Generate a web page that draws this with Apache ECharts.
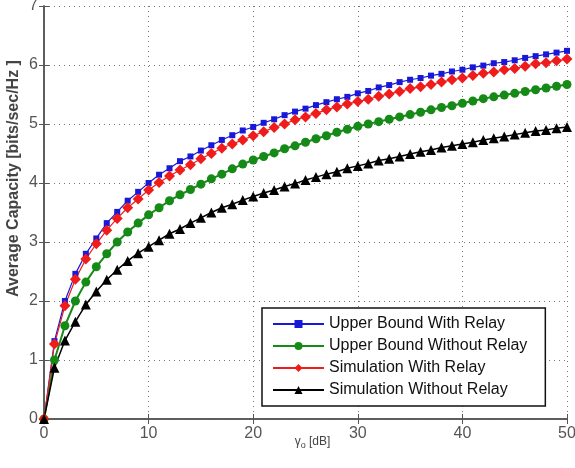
<!DOCTYPE html>
<html>
<head>
<meta charset="utf-8">
<script src="https://cdn.jsdelivr.net/npm/echarts@6/dist/echarts.min.js"></script>
<style>
  html, body { margin: 0; padding: 0; background: #fff; }
  #chart { width: 575px; height: 468px; }
</style>
</head>
<body>
<div id="chart"></div>
<script>
const gammaDb = [0, 1, 2, 3, 4, 5, 6, 7, 8, 9, 10, 11, 12, 13, 14, 15, 16, 17, 18, 19, 20,
  21, 22, 23, 24, 25, 26, 27, 28, 29, 30, 31, 32, 33, 34, 35, 36, 37, 38, 39, 40,
  41, 42, 43, 44, 45, 46, 47, 48, 49, 50]

const upperWithRelay = [0, 1.32, 2.0, 2.46, 2.80, 3.06, 3.32, 3.51, 3.70, 3.85, 4.0,
  4.14, 4.25, 4.37, 4.45, 4.55, 4.64, 4.73, 4.81, 4.89, 4.95,
  5.02, 5.08, 5.15, 5.21, 5.26, 5.32, 5.37, 5.42, 5.46, 5.52,
  5.56, 5.62, 5.66, 5.71, 5.75, 5.78, 5.82, 5.85, 5.89, 5.92,
  5.96, 5.99, 6.03, 6.05, 6.08, 6.12, 6.15, 6.18, 6.21, 6.24]

const upperWithoutRelay = [0, 1.0, 1.58, 2.0, 2.32, 2.58, 2.80, 3.0, 3.17, 3.32, 3.46,
  3.58, 3.70, 3.80, 3.89, 3.98, 4.07, 4.15, 4.24, 4.32, 4.39,
  4.45, 4.51, 4.58, 4.63, 4.69, 4.75, 4.80, 4.86, 4.91, 4.96,
  5.0, 5.04, 5.08, 5.12, 5.16, 5.20, 5.24, 5.28, 5.31, 5.35,
  5.39, 5.43, 5.46, 5.49, 5.52, 5.55, 5.58, 5.61, 5.64, 5.67]

const simWithRelay = [0, 1.27, 1.92, 2.37, 2.71, 2.97, 3.20, 3.40, 3.58, 3.73, 3.88,
  4.01, 4.12, 4.22, 4.31, 4.41, 4.50, 4.59, 4.66, 4.73, 4.80,
  4.87, 4.94, 5.0, 5.07, 5.12, 5.18, 5.24, 5.29, 5.34, 5.38,
  5.42, 5.47, 5.51, 5.55, 5.60, 5.63, 5.67, 5.71, 5.75, 5.78,
  5.82, 5.86, 5.88, 5.92, 5.94, 5.98, 6.02, 6.04, 6.07, 6.10]

const simWithoutRelay = [0, 0.87, 1.33, 1.65, 1.94, 2.16, 2.36, 2.53, 2.68, 2.81, 2.92,
  3.03, 3.14, 3.22, 3.32, 3.41, 3.50, 3.58, 3.64, 3.71, 3.77,
  3.83, 3.88, 3.94, 3.99, 4.05, 4.10, 4.15, 4.19, 4.25, 4.29,
  4.33, 4.38, 4.41, 4.45, 4.49, 4.53, 4.56, 4.60, 4.63, 4.66,
  4.69, 4.73, 4.76, 4.79, 4.82, 4.85, 4.88, 4.90, 4.93, 4.95]

const seriesNames = ['Upper Bound With Relay', 'Upper Bound Without Relay',
  'Simulation With Relay', 'Simulation Without Relay']

function pairs (values) {
  return gammaDb.map((x, i) => [x, values[i]])
}

const font = 'Liberation Sans, Arial, sans-serif'
const axisGray = '#555'
const gridLine = { show: true, lineStyle: { color: '#777', type: [1, 4], width: 1 } }

let option = {
  animation: false,
  backgroundColor: '#fff',
  grid: { left: 44, right: 8, top: 6, bottom: 49, outerBoundsMode: 'none' },
  legend: {
    orient: 'vertical',
    left: 262,
    top: 308,
    itemWidth: 51,
    itemHeight: 10,
    itemGap: 6,
    padding: [8, 18, 8, 10],
    backgroundColor: '#fff',
    borderColor: '#111',
    borderWidth: 1.5,
    textStyle: { color: '#111', fontSize: 16, fontFamily: font },
    data: seriesNames
  },
  xAxis: [
    {
      type: 'value',
      min: 0,
      max: 50,
      interval: 10,
      name: '{g|γ}{s|o} [dB]',
      nameLocation: 'middle',
      nameGap: 15,
      nameMoveOverlap: false,
      nameTextStyle: {
        color: '#444',
        fontSize: 12,
        fontFamily: font,
        padding: [0, 0, 0, 14],
        rich: {
          g: { fontSize: 12, color: '#444', fontFamily: font },
          s: { fontSize: 9, color: '#444', fontFamily: font, verticalAlign: 'bottom', padding: [7, 0, 0, 0] }
        }
      },
      axisLine: { show: true, onZero: false, lineStyle: { color: axisGray, width: 1.5 } },
      axisTick: { show: true, inside: true, length: 5, lineStyle: { color: axisGray } },
      axisLabel: { color: '#555', fontSize: 16, margin: 7, fontFamily: font },
      splitLine: gridLine
    },
    {
      type: 'value',
      position: 'top',
      min: 0,
      max: 50,
      interval: 10,
      axisLine: { show: true, lineStyle: { color: axisGray, width: 1.5 } },
      axisTick: { show: true, inside: true, length: 5, lineStyle: { color: axisGray } },
      axisLabel: { show: false },
      splitLine: { show: false }
    }
  ],
  yAxis: [
    {
      type: 'value',
      min: 0,
      max: 7,
      interval: 1,
      name: 'Average Capacity [bits/sec/Hz ]',
      nameLocation: 'middle',
      nameGap: 22,
      nameMoveOverlap: false,
      nameTextStyle: {
        color: '#444',
        fontSize: 16,
        fontWeight: 'bold',
        fontFamily: font,
        padding: [0, 0, 0, 68]
      },
      axisLine: { show: true, onZero: false, lineStyle: { color: axisGray, width: 1.5 } },
      axisTick: { show: true, inside: true, length: 5, lineStyle: { color: axisGray } },
      axisLabel: { color: '#555', fontSize: 16, margin: 6, fontFamily: font },
      splitLine: gridLine
    },
    {
      type: 'value',
      position: 'right',
      min: 0,
      max: 7,
      interval: 1,
      axisLine: { show: true, lineStyle: { color: axisGray, width: 1.5 } },
      axisTick: { show: true, inside: true, length: 5, lineStyle: { color: axisGray } },
      axisLabel: { show: false },
      splitLine: { show: false }
    }
  ],
  series: [
    {
      name: seriesNames[0],
      type: 'line',
      data: pairs(upperWithRelay),
      symbol: 'rect',
      symbolSize: 6,
      color: '#1818d8',
      lineStyle: { width: 1.2 },
      itemStyle: { color: '#1818d8' }
    },
    {
      name: seriesNames[1],
      type: 'line',
      data: pairs(upperWithoutRelay),
      symbol: 'circle',
      symbolSize: 9,
      color: '#168a16',
      lineStyle: { width: 2 },
      itemStyle: { color: '#168a16' }
    },
    {
      name: seriesNames[2],
      type: 'line',
      data: pairs(simWithRelay),
      symbol: 'diamond',
      symbolSize: 11,
      color: '#f01c1c',
      lineStyle: { width: 1.2 },
      itemStyle: { color: '#f01c1c' }
    },
    {
      name: seriesNames[3],
      type: 'line',
      data: pairs(simWithoutRelay),
      symbol: 'triangle',
      symbolSize: 10,
      color: '#000',
      lineStyle: { width: 1.5 },
      itemStyle: { color: '#000' }
    }
  ]
}

let chart = echarts.init(document.getElementById('chart'))
chart.setOption(option)
</script>
</body>
</html>
